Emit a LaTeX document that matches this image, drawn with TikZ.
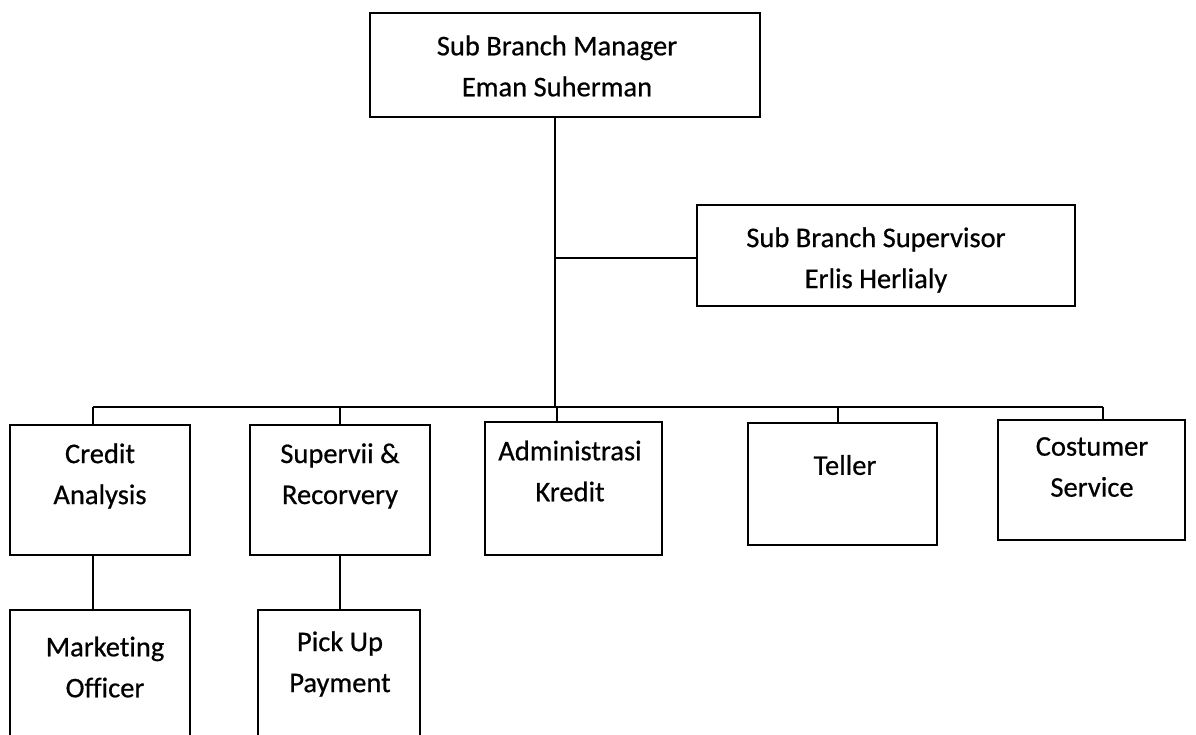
\documentclass[tikz,border=0pt]{standalone}
\usepackage{fontspec}
\setmainfont{Carlito}[Ligatures=NoCommon, FakeBold=0.6]
\begin{document}
\begin{tikzpicture}[x=1pt,y=-1pt,
  box/.style={draw=black, line width=2pt, rectangle, inner sep=0pt},
  txt/.style={align=center, inner sep=0pt, font=\fontsize{28.5}{41}\selectfont},
  conn/.style={draw=black, line width=1.5pt}]
\useasboundingbox (0,0) rectangle (1196,734);
\clip (0,0) rectangle (1196,734);
% boxes
\node[box, minimum width=390, minimum height=104] (mgr) at (565,65) {};
\node[txt] (mgrt) at (557,66) {Sub Branch Manager\\Eman Suherman};
\node[box, minimum width=378, minimum height=101] (sup) at (886,255.5) {};
\node[txt] (supt) at (876,260) {Sub Branch Supervisor\\Erlis Herlialy};
\node[box, minimum width=180, minimum height=130] (ca) at (100,490) {};
\node[txt] (cat) at (100,476) {Credit\\Analysis};
\node[box, minimum width=180, minimum height=130] (sr) at (340,490) {};
\node[txt] (srt) at (340,476) {Supervii \&\\Recorvery};
\node[box, minimum width=177, minimum height=133] (ak) at (573.5,488.5) {};
\node[txt] (akt) at (570,471) {Administrasi\\Kredit};
\node[box, minimum width=189, minimum height=122] (te) at (842.5,484) {};
\node[txt] (tet) at (845,465) {Teller};
\node[box, minimum width=187, minimum height=120] (cs) at (1091.5,480) {};
\node[txt] (cst) at (1092,467) {Costumer\\Service};
\node[box, minimum width=180, minimum height=150] (mo) at (100,685) {};
\node[txt] (mot) at (105,667) {Marketing\\Officer};
\node[box, minimum width=162, minimum height=150] (pu) at (339,685) {};
\node[txt] (put) at (340,664) {Pick Up\\Payment};
% connectors
\coordinate (bus) at (555,407);
\coordinate (jn) at (555,258);
\draw[conn] (mgr.south -| bus) -- (bus);
\draw[conn] (jn) -- (jn -| sup.west);
\draw[conn] (93,407) -- (1103,407);
\draw[conn] (93,407) -- (93,424);
\draw[conn] (340,407) -- (sr.north);
\draw[conn] (557,407) -- (557,422);
\draw[conn] (838,407) -- (838,423);
\draw[conn] (1103,407) -- (1103,420);
\draw[conn] (93,555) -- (93,610);
\draw[conn] (sr.south) -- (pu.north -| sr.south);
\end{tikzpicture}
\end{document}
